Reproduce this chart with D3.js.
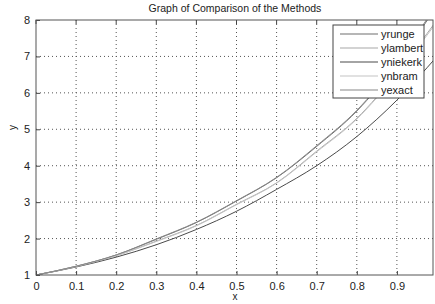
<!DOCTYPE html>
<html>
<head>
<meta charset="utf-8">
<script src="https://cdn.jsdelivr.net/npm/d3@7"></script>
<style>
  body { margin: 0; background: #fff; }
  svg { display: block; font-family: "Liberation Sans", Arial, sans-serif; }
</style>
</head>
<body>
<svg id="chart"></svg>
<script>
// values
const xValues = [0, 0.1, 0.2, 0.3, 0.4, 0.5, 0.6, 0.7, 0.8, 0.9, 1.0];
const yrunge = [1, 1.24, 1.55, 1.98, 2.44, 3.03, 3.67, 4.53, 5.50, 6.80, 8.40];
const ylambert = [1, 1.23, 1.53, 1.93, 2.36, 2.94, 3.53, 4.40, 5.30, 6.55, 8.00];
const yniekerk = [1, 1.22, 1.49, 1.83, 2.25, 2.75, 3.35, 4.00, 4.80, 5.80, 7.00];
const ynbram = [1, 1.23, 1.53, 1.92, 2.35, 2.93, 3.52, 4.38, 5.28, 6.52, 7.95];
const yexact = [1, 1.24, 1.55, 1.99, 2.45, 3.04, 3.68, 4.55, 5.52, 6.83, 8.45];

const seriesNames = ['yrunge', 'ylambert', 'yniekerk', 'ynbram', 'yexact'];
const seriesValues = [yrunge, ylambert, yniekerk, ynbram, yexact];
const seriesColors = ['#6e6e6e', '#a8a8a8', '#4a4a4a', '#c4c4c4', '#888888'];

const xTicks = [0, 0.1, 0.2, 0.3, 0.4, 0.5, 0.6, 0.7, 0.8, 0.9];
const yTicks = [1, 2, 3, 4, 5, 6, 7, 8];

const width = 435, height = 304;
const plot = { left: 36, top: 20, right: 433, bottom: 275 };

const svg = d3.select('#chart').attr('width', width).attr('height', height);

const xScale = d3.scaleLinear().domain([0, 1]).range([plot.left, 437]);
const yScale = d3.scaleLinear().domain([1, 8]).range([plot.bottom, plot.top]);

// clip for the curves
svg.append('clipPath').attr('id', 'plot-clip')
  .append('rect')
  .attr('x', plot.left).attr('y', plot.top)
  .attr('width', plot.right - plot.left).attr('height', plot.bottom - plot.top);

// dotted grid
const grid = svg.append('g');
grid.selectAll('line.vgrid').data(xTicks.filter(d => d > 0)).join('line')
  .attr('class', 'vgrid')
  .attr('x1', d => xScale(d)).attr('x2', d => xScale(d))
  .attr('y1', plot.top).attr('y2', plot.bottom)
  .attr('stroke', '#555').attr('stroke-width', 1)
  .attr('stroke-dasharray', '1,3');
grid.selectAll('line.hgrid').data(yTicks.filter(d => d > 1 && d < 8)).join('line')
  .attr('class', 'hgrid')
  .attr('x1', plot.left).attr('x2', plot.right)
  .attr('y1', d => yScale(d)).attr('y2', d => yScale(d))
  .attr('stroke', '#555').attr('stroke-width', 1)
  .attr('stroke-dasharray', '1,3');

// curves
const lineGen = d3.line()
  .x((d, i) => xScale(xValues[i]))
  .y(d => yScale(d))
  .curve(d3.curveMonotoneX);

svg.append('g').attr('clip-path', 'url(#plot-clip)')
  .selectAll('path').data(seriesValues).join('path')
  .attr('d', d => lineGen(d))
  .attr('fill', 'none')
  .attr('stroke', (d, i) => seriesColors[i])
  .attr('stroke-width', 1);

// axes (MATLAB style, ticks pointing inward)
const xAxis = d3.axisBottom(xScale).tickValues(xTicks).tickSize(-4).tickPadding(7)
  .tickFormat(d => d === 0 ? '0' : d3.format('.1f')(d));
const yAxis = d3.axisLeft(yScale).tickValues(yTicks).tickSize(-4).tickPadding(6)
  .tickFormat(d3.format('d'));

const xAxisG = svg.append('g').attr('transform', `translate(0,${plot.bottom})`).call(xAxis);
const yAxisG = svg.append('g').attr('transform', `translate(${plot.left},0)`).call(yAxis);
[xAxisG, yAxisG].forEach(g => {
  g.select('.domain').remove();
  g.selectAll('.tick line').attr('stroke', '#444');
  g.selectAll('.tick text').attr('fill', '#222').style('font-size', '11px');
});

// top ticks
svg.append('g').selectAll('line').data(xTicks).join('line')
  .attr('x1', d => xScale(d)).attr('x2', d => xScale(d))
  .attr('y1', plot.top).attr('y2', plot.top + 4)
  .attr('stroke', '#444');

// axes box
svg.append('rect')
  .attr('x', plot.left).attr('y', plot.top)
  .attr('width', plot.right - plot.left).attr('height', plot.bottom - plot.top)
  .attr('fill', 'none').attr('stroke', '#555').attr('stroke-width', 1);

// title and labels
svg.append('text').attr('x', 235).attr('y', 12)
  .attr('text-anchor', 'middle').style('font-size', '10.5px').attr('fill', '#222')
  .text('Graph of Comparison of the Methods');
svg.append('text').attr('x', 235).attr('y', 300)
  .attr('text-anchor', 'middle').style('font-size', '10px').attr('fill', '#222')
  .text('x');
svg.append('text')
  .attr('transform', `translate(16,${(plot.top + plot.bottom) / 2 - 20}) rotate(-90)`)
  .attr('text-anchor', 'middle').style('font-size', '10px').attr('fill', '#222')
  .text('y');

// legend
const legend = svg.append('g');
legend.append('rect')
  .attr('x', 333).attr('y', 25).attr('width', 91).attr('height', 73)
  .attr('fill', '#fff').attr('stroke', '#444').attr('stroke-width', 1);
const items = legend.selectAll('g.item').data(seriesNames).join('g')
  .attr('class', 'item')
  .attr('transform', (d, i) => `translate(0,${34 + i * 14})`);
items.append('line')
  .attr('x1', 340).attr('x2', 378).attr('y1', 0).attr('y2', 0)
  .attr('stroke', (d, i) => seriesColors[i]).attr('stroke-width', 1.2);
items.append('text')
  .attr('x', 381).attr('y', 4)
  .style('font-size', '11px').attr('fill', '#222')
  .text(d => d);
</script>
</body>
</html>
